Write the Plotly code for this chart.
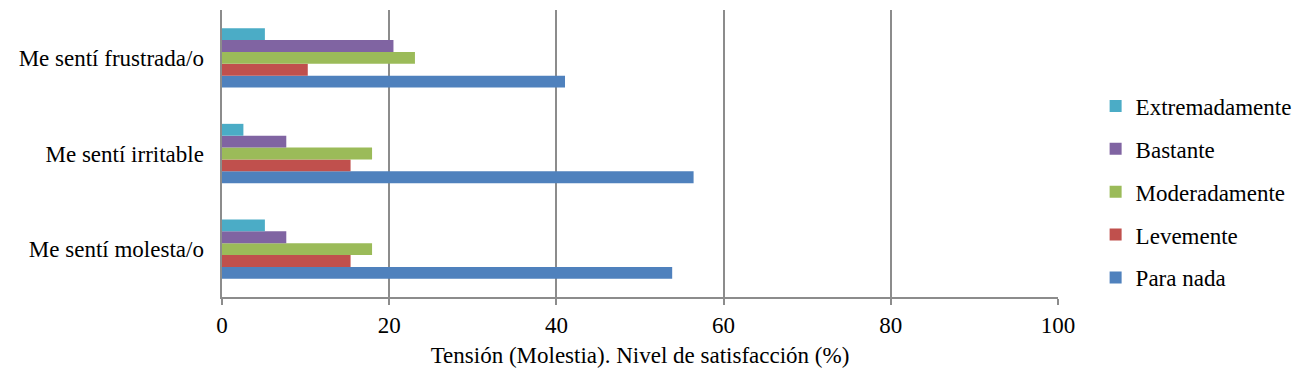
import plotly.graph_objects as go

categories = ["Me sentí molesta/o", "Me sentí irritable", "Me sentí frustrada/o"]
series_names = ["Para nada", "Levemente", "Moderadamente", "Bastante", "Extremadamente"]
para_nada = [53.85, 56.41, 41.03]
levemente = [15.38, 15.38, 10.26]
moderadamente = [17.95, 17.95, 23.08]
bastante = [7.69, 7.69, 20.51]
extremadamente = [5.13, 2.56, 5.13]
colors = ["#4F81BD", "#C0504D", "#9BBB59", "#8064A2", "#4BACC6"]
x_ticks = [0, 20, 40, 60, 80, 100]

values = [para_nada, levemente, moderadamente, bastante, extremadamente]

FAM = "Liberation Serif"
FS = 23
fig = go.Figure()
for i, (name, vals, col) in enumerate(zip(series_names, values, colors)):
    fig.add_trace(go.Bar(
        y=categories, x=vals, name=name, orientation="h",
        marker=dict(color=col, line=dict(width=0)),
        legendrank=10 - i, legendgroup=name,
    ))

fig.update_layout(
    barmode="group",
    bargap=0.38,
    bargroupgap=0,
    width=1302, height=378,
    margin=dict(l=214, r=252, t=2, b=89, autoexpand=False),
    plot_bgcolor="white", paper_bgcolor="white",
    font=dict(family=FAM, size=FS, color="black"),
    legend=dict(
        x=1.045, y=0.366, xanchor="left", yanchor="middle",
        font=dict(family=FAM, size=FS, color="black"),
        itemwidth=30,
        traceorder="grouped",
        tracegroupgap=10,
    ),
    xaxis=dict(
        range=[0, 100], tickvals=x_ticks,
        showgrid=True, gridcolor="#8c8c8c", gridwidth=2,
        showline=True, linecolor="#8c8c8c", linewidth=2,
        ticks="outside", tickcolor="#8c8c8c", ticklen=6, tickwidth=2,
        zeroline=False, automargin=False,
        tickfont=dict(family=FAM, size=FS, color="black"),
        title=dict(text="Tensión (Molestia). Nivel de satisfacción (%)", standoff=10,
                   font=dict(family=FAM, size=FS, color="black")),
    ),
    yaxis=dict(
        showline=True, linecolor="#8c8c8c", linewidth=2,
        ticks="", ticklen=0, showgrid=False, automargin=False,
        tickfont=dict(family=FAM, size=FS, color="black"),
        ticksuffix="  ",
    ),
)
fig.write_html("out.html")
